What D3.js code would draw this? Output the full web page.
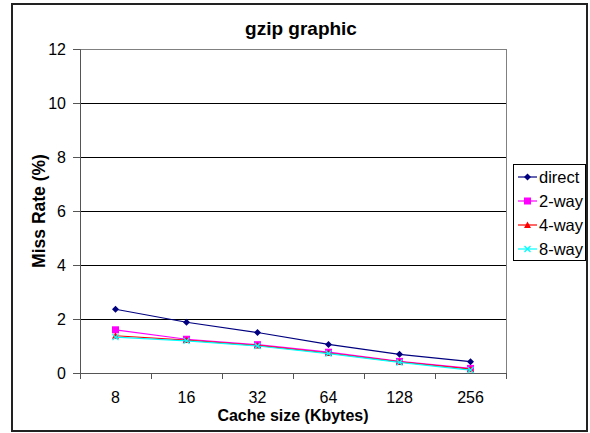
<!DOCTYPE html>
<html><head><meta charset="utf-8">
<script src="https://cdn.jsdelivr.net/npm/d3@7"></script>
<style>body{margin:0;background:#fff}svg{display:block}text{font-family:"Liberation Sans",Arial,sans-serif}</style>
</head><body><svg id="c" width="590" height="433"></svg>
<script>
const categories = ["8","16","32","64","128","256"];
const yTicks = [0,2,4,6,8,10,12];
const direct = [2.36,1.88,1.50,1.06,0.69,0.42];
const way2 = [1.60,1.25,1.05,0.77,0.43,0.17];
const way4 = [1.38,1.22,1.02,0.74,0.41,0.14];
const way8 = [1.33,1.19,1.00,0.72,0.39,0.11];
const seriesNames = ["direct","2-way","4-way","8-way"];
const seriesData = [direct, way2, way4, way8];
const colors = ["#000080","#FF00FF","#FF0000","#00FFFF"];
const markers = ["diamond","square","triangle","x"];

const svg = d3.select("#c");
const L=80, R=506, T=49, B=373;
const x = d3.scaleBand().domain(categories).range([L,R]);
const y = d3.scaleLinear().domain([0,12]).range([B,T]);

svg.append("rect").attr("x",12).attr("y",4).attr("width",575).attr("height",427)
  .attr("fill","#fff").attr("stroke","#222").attr("stroke-width",2);

// gridlines
svg.append("g").selectAll("line").data(yTicks.filter(d=>d>0&&d<12)).join("line")
  .attr("x1",L).attr("x2",R).attr("y1",d=>y(d)).attr("y2",d=>y(d))
  .attr("stroke","#000").attr("stroke-width",1).attr("shape-rendering","crispEdges");
// plot border top/right
svg.append("path").attr("d",`M${L},${T}H${R}V${B}`).attr("fill","none")
  .attr("stroke","#808080").attr("stroke-width",1).attr("shape-rendering","crispEdges");

// axes
const yAxis = d3.axisLeft(y).tickValues(yTicks).tickSize(7).tickPadding(7);
const gy = svg.append("g").attr("transform",`translate(${L},0)`).call(yAxis);
gy.select(".domain").attr("stroke","#555");
gy.selectAll(".tick line").attr("stroke","#555");
gy.selectAll("text").attr("font-size",16).attr("fill","#000");

const gx = svg.append("g").attr("transform",`translate(0,${B})`).call(d3.axisBottom(x).tickSize(0).tickPadding(19));
gx.select(".domain").attr("stroke","#555");
gx.selectAll("text").attr("font-size",16).attr("fill","#000");
// band boundary ticks
const bounds = categories.map(c=>x(c)).concat([R]);
svg.append("g").selectAll("line").data(bounds).join("line")
  .attr("x1",d=>d).attr("x2",d=>d).attr("y1",B).attr("y2",B+6)
  .attr("stroke","#555").attr("shape-rendering","crispEdges");

// titles
svg.append("text").attr("x",301).attr("y",35).attr("text-anchor","middle")
  .attr("font-size",19).attr("font-weight","bold").text("gzip graphic");
svg.append("text").attr("x",(L+R)/2).attr("y",421).attr("text-anchor","middle")
  .attr("font-size",16).attr("font-weight","bold").text("Cache size (Kbytes)");
svg.append("text").attr("transform",`translate(45,${(T+B)/2}) rotate(-90)`).attr("text-anchor","middle")
  .attr("font-size",17.5).attr("font-weight","bold").text("Miss Rate (%)");

function drawMarker(g, type, cx, cy, color){
  if(type==="diamond"){
    g.append("path").attr("d",`M${cx},${cy-3.5}L${cx+3.5},${cy}L${cx},${cy+3.5}L${cx-3.5},${cy}Z`).attr("fill",color);
  } else if(type==="square"){
    g.append("rect").attr("x",cx-3.5).attr("y",cy-3.5).attr("width",7).attr("height",7).attr("fill",color);
  } else if(type==="triangle"){
    g.append("path").attr("d",`M${cx},${cy-3.5}L${cx+3.5},${cy+3}L${cx-3.5},${cy+3}Z`).attr("fill",color);
  } else {
    g.append("path").attr("d",`M${cx-3},${cy-3}L${cx+3},${cy+3}M${cx+3},${cy-3}L${cx-3},${cy+3}`).attr("stroke",color).attr("stroke-width",1.3);
  }
}

const line = d3.line().x((d,i)=>x(categories[i])+x.bandwidth()/2).y(d=>y(d));
seriesData.forEach((vals,si)=>{
  const g = svg.append("g");
  g.append("path").datum(vals).attr("d",line).attr("fill","none").attr("stroke",colors[si]).attr("stroke-width",1.2);
  vals.forEach((v,i)=>drawMarker(g, markers[si], x(categories[i])+x.bandwidth()/2, y(v), colors[si]));
});

// legend
const lg = svg.append("g");
lg.append("rect").attr("x",513.5).attr("y",164.5).attr("width",72).attr("height",96)
  .attr("fill","#fff").attr("stroke","#000").attr("stroke-width",1);
seriesNames.forEach((n,i)=>{
  const cy = 177 + i*24;
  lg.append("line").attr("x1",518).attr("x2",537).attr("y1",cy).attr("y2",cy).attr("stroke",colors[i]).attr("stroke-width",1.2);
  drawMarker(lg, markers[i], 527.5, cy, colors[i]);
  lg.append("text").attr("x",539).attr("y",cy+6).attr("font-size",16.5).text(n);
});
</script></body></html>
